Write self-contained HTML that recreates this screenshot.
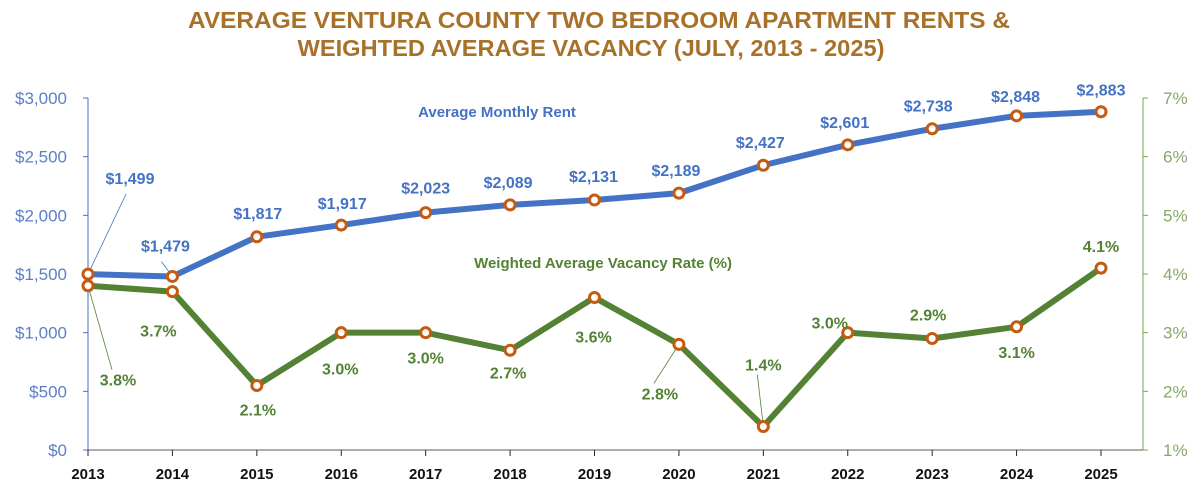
<!DOCTYPE html>
<html><head><meta charset="utf-8"><style>
html,body{margin:0;padding:0;background:#fff;}
svg{display:block;font-family:"Liberation Sans",sans-serif;}
</style></head><body>
<svg id="chart" width="1200" height="492" viewBox="0 0 1200 492">
<text x="599" y="28" text-anchor="middle" font-size="23" font-weight="bold" fill="#A8712A" textLength="822" lengthAdjust="spacingAndGlyphs">AVERAGE VENTURA COUNTY TWO BEDROOM APARTMENT RENTS &amp;</text>
<text x="591" y="56" text-anchor="middle" font-size="23" font-weight="bold" fill="#A8712A" textLength="587" lengthAdjust="spacingAndGlyphs">WEIGHTED AVERAGE VACANCY (JULY, 2013 - 2025)</text>
<g id="g"></g>
</svg>
<script>
const years = ['2013','2014','2015','2016','2017','2018','2019','2020','2021','2022','2023','2024','2025'];
const rents = [1499,1479,1817,1917,2023,2089,2131,2189,2427,2601,2738,2848,2883];
const vacancy = [3.8,3.7,2.1,3.0,3.0,2.7,3.6,2.8,1.4,3.0,2.9,3.1,4.1];
const rentTicks = [0,500,1000,1500,2000,2500,3000];
const vacTicks = [1,2,3,4,5,6,7];
// label offsets (styling)
const rentOff = [[42,-90],[-7,-25],[1,-18],[1,-16],[0,-19],[-2,-17],[-1,-18],[-3,-17],[-3,-17],[-3,-17],[-4,-17],[-1,-14],[0,-16]];
const vacOff = [[30,100],[-14,45],[1,30],[-1,42],[0,31],[-2,28],[-1,45],[-19,55],[0,-56],[-18,-4],[-4,-18],[0,31],[0,-16]];
const NS='http://www.w3.org/2000/svg';
const g=document.getElementById('g');
const X0=88,X1=1101,Y0=450,Y1=98,AX=1143;
const xs=i=>X0+(X1-X0)*i/(years.length-1);
const yR=v=>Y0-(v-0)/(3000-0)*(Y0-Y1);
const yV=v=>Y0-(v-1)/(7-1)*(Y0-Y1);
function mk(tag,attrs,parent){const e=document.createElementNS(NS,tag);for(const k in attrs)e.setAttribute(k,attrs[k]);(parent||g).appendChild(e);return e;}
function fmt(v){return '$'+v.toLocaleString('en-US');}
// axes
let e;
e=mk('line',{x1:X0,y1:Y1,x2:X0,y2:Y0,stroke:'#4472C4','stroke-width':1});


e=mk('line',{x1:AX,y1:Y1,x2:AX,y2:Y0,stroke:'#70AD47','stroke-width':1});


e=mk('line',{x1:X0,y1:Y0,x2:AX,y2:Y0,stroke:'#595959','stroke-width':1});


rentTicks.forEach(t=>{
  const y=yR(t);
  mk('line',{x1:X0-5,y1:y,x2:X0,y2:y,stroke:'#4472C4'});
  e=mk('text',{x:67,y:y+6,'text-anchor':'end','font-size':17,fill:'#5B7FC7'});
  e.textContent=fmt(t);
  
  
});
vacTicks.forEach(t=>{
  const y=yV(t);
  mk('line',{x1:AX,y1:y,x2:AX+5,y2:y,stroke:'#70AD47'});
  e=mk('text',{x:1163,y:y+6,'text-anchor':'start','font-size':17,fill:'#86A868'});
  e.textContent=t+'%';
  
  
});
years.forEach((yr,i)=>{
  const x=xs(i);
  mk('line',{x1:x,y1:Y0,x2:x,y2:Y0+6,stroke:'#262626'});
  e=mk('text',{x:x,y:479,'text-anchor':'middle','font-size':15,'font-weight':'bold',fill:'#111'});
  e.textContent=yr;
  
  
});
// series titles
e=mk('text',{x:497,y:117,'text-anchor':'middle','font-size':15,'font-weight':'bold',fill:'#4472C4'});
e.textContent='Average Monthly Rent';


e=mk('text',{x:603,y:268,'text-anchor':'middle','font-size':15,'font-weight':'bold',fill:'#548235'});
e.textContent='Weighted Average Vacancy Rate (%)';


// lines
e=mk('polyline',{points:rents.map((v,i)=>xs(i)+','+yR(v)).join(' '),fill:'none',stroke:'#4472C4','stroke-width':6,'stroke-linejoin':'round'});


e=mk('polyline',{points:vacancy.map((v,i)=>xs(i)+','+yV(v)).join(' '),fill:'none',stroke:'#548235','stroke-width':6,'stroke-linejoin':'round'});


// leader lines
function leader(x,y,lx,ly,col){mk('line',{x1:x,y1:y,x2:lx,y2:ly,stroke:col,'stroke-width':0.8});}
rents.forEach((v,i)=>{const x=xs(i),y=yR(v),o=rentOff[i];if(Math.hypot(o[0],o[1])>22)leader(x,y,x+o[0]-4,y+o[1]+10,'#4472C4');});
vacancy.forEach((v,i)=>{const x=xs(i),y=yV(v),o=vacOff[i];if(Math.abs(o[1])>48)leader(x,y,x+o[0]-6,y+o[1]+(o[1]>0?-16:4),'#548235');});
// markers & labels
rents.forEach((v,i)=>{
  const x=xs(i),y=yR(v);
  e=mk('circle',{cx:x,cy:y,r:5,fill:'#fff',stroke:'#C55A11','stroke-width':3});
  
  
  e=mk('text',{x:x+rentOff[i][0],y:y+rentOff[i][1],'text-anchor':'middle','font-size':16,'font-weight':'bold',fill:'#4472C4'});
  e.textContent=fmt(v);
  
  
});
vacancy.forEach((v,i)=>{
  const x=xs(i),y=yV(v);
  e=mk('circle',{cx:x,cy:y,r:5,fill:'#fff',stroke:'#C55A11','stroke-width':3});
  
  
  e=mk('text',{x:x+vacOff[i][0],y:y+vacOff[i][1],'text-anchor':'middle','font-size':16,'font-weight':'bold',fill:'#548235'});
  e.textContent=v.toFixed(1)+'%';
  
  
});
</script>
</body></html>
